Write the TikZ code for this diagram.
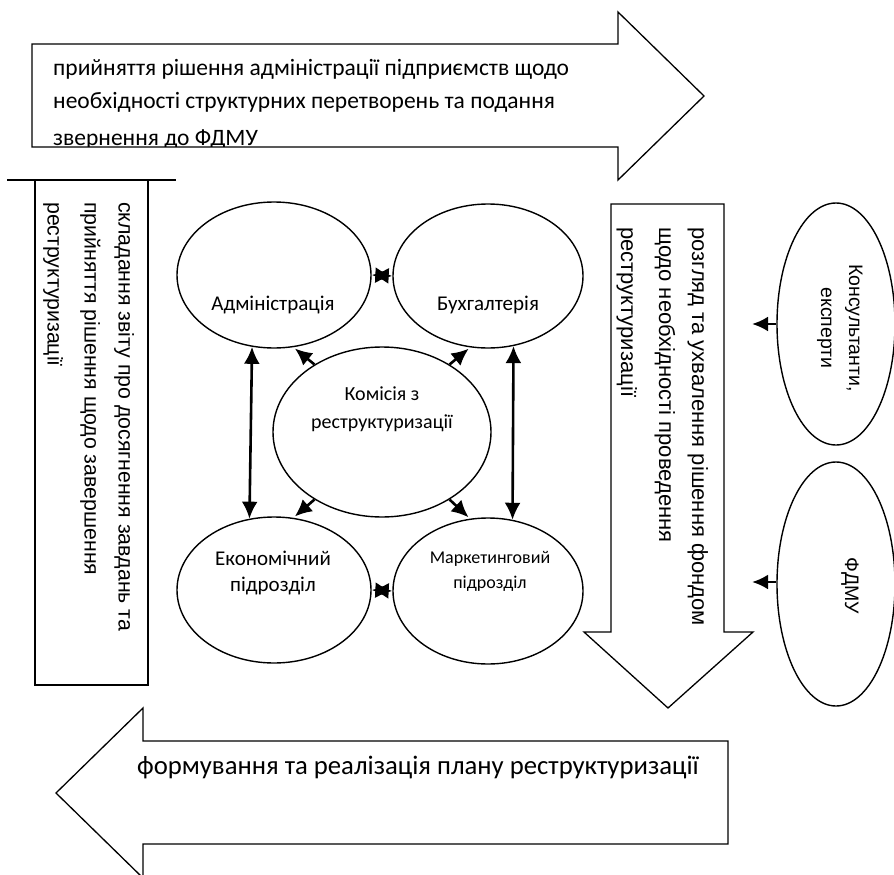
\documentclass[tikz,border=0pt]{standalone}
\usepackage{fontspec}
\setmainfont{Carlito}
\newfontfamily\arialf{Liberation Sans}
\usetikzlibrary{shapes.geometric,arrows.meta}
\begin{document}
\begin{tikzpicture}[x=1pt,y=-1pt,
  shp/.style={draw=black,line width=1.3pt,fill=white},
  oval/.style={draw,ellipse,line width=1.4pt,inner sep=0pt,fill=white},
  dbl/.style={draw,line width=2.6pt,arrows={Latex[length=17pt,width=16pt]-Latex[length=17pt,width=16pt]}},
  outarr/.style={draw,line width=2.6pt,arrows={-Latex[length=17pt,width=16pt]},shorten >=2pt},
  sidearr/.style={draw,line width=2.8pt,arrows={-Latex[length=16pt,width=15pt]}},
  txt/.style={inner sep=0pt,anchor=base west},
  ctxt/.style={inner sep=0pt,anchor=base}
]
\useasboundingbox (0,0) rectangle (894,875);
\fill[white] (0,0) rectangle (894,875);

% top arrow
\draw[shp] (32,44) -- (618,44) -- (618,12) -- (704,96) -- (618,180) -- (618,147) -- (32,147) -- cycle;
\begin{scope}
\clip (33,45) rectangle (617,146.3);
\node[txt,font=\fontsize{23.5}{28}\selectfont] (top1) at (53,75) {прийняття рішення адміністрації підприємств щодо};
\node[txt,font=\fontsize{23.5}{28}\selectfont] (top2) at (53,108.5) {необхідності структурних перетворень та подання};
\node[txt,font=\fontsize{23.5}{28}\selectfont] (top3) at (53,145) {звернення до ФДМУ};
\end{scope}

% left box
\draw[line width=2pt] (7,180) -- (176,180);
\draw[shp] (35,180) rectangle (148,685);
\node[txt,rotate=-90,font=\arialf\fontsize{21.3}{25}\selectfont] (l1) at (118.5,202) {складання звіту про досягнення завдань та};
\node[txt,rotate=-90,font=\arialf\fontsize{21.3}{25}\selectfont] (l2) at (84.5,202) {прийняття рішення щодо завершення};
\node[txt,rotate=-90,font=\arialf\fontsize{21.3}{25}\selectfont] (l3) at (47.5,202) {реструктуризації};

% right down arrow
\draw[shp] (611,204) -- (724,204) -- (724,632) -- (753,632) -- (668,708) -- (584,632) -- (611,632) -- cycle;
\node[txt,rotate=-90,font=\arialf\fontsize{22}{26}\selectfont] (r1) at (692,227) {розгляд та ухвалення рішення фондом};
\node[txt,rotate=-90,font=\arialf\fontsize{22}{26}\selectfont] (r2) at (659,227) {щодо необхідності проведення};
\node[txt,rotate=-90,font=\arialf\fontsize{22}{26}\selectfont] (r3) at (621,227) {реструктуризації};

% bottom arrow
\draw[shp] (728,741) -- (143,741) -- (143,708) -- (56,793) -- (143,878) -- (143,844) -- (728,844) -- cycle;
\node[txt,font=\fontsize{26.7}{30}\selectfont] (bot) at (137,774) {формування та реалізація плану реструктуризації};

% right ellipses
\node[oval,minimum width=118pt,minimum height=242pt] (kons) at (836,324) {};
\node[ctxt,rotate=-90,font=\arialf\fontsize{19.5}{22}\selectfont] (kons1) at (849,328) {Консультанти,};
\node[ctxt,rotate=-90,font=\arialf\fontsize{19.5}{22}\selectfont] (kons2) at (821,328) {експерти};
\node[oval,minimum width=118pt,minimum height=244pt] (fdmu) at (836,584) {};
\node[ctxt,rotate=-90,font=\arialf\fontsize{19.5}{22}\selectfont] (fdmut) at (845,586) {ФДМУ};
\coordinate (kt) at (752,324);
\coordinate (ft) at (752,582);
\path[sidearr] (kons.west) -- (kt);
\path[sidearr] (fdmu.west |- ft) -- (ft);

% centre ellipses
\node[oval,minimum width=194pt,minimum height=146pt] (adm) at (274,275) {};
\node[oval,minimum width=190pt,minimum height=144pt] (buh) at (488,276) {};
\node[oval,minimum width=218pt,minimum height=170pt] (kom) at (382,432) {};
\node[oval,minimum width=194pt,minimum height=146pt] (ek) at (274,590) {};
\node[oval,minimum width=190pt,minimum height=146pt] (mark) at (488,591) {};

\node[ctxt,font=\fontsize{21}{25}\selectfont] (admt) at (273,310) {Адміністрація};
\node[ctxt,font=\fontsize{21}{25}\selectfont] (buht) at (488,310) {Бухгалтерія};
\node[ctxt,font=\fontsize{20}{24}\selectfont] (komt1) at (382,400) {Комісія з};
\node[ctxt,font=\fontsize{20}{24}\selectfont] (komt2) at (382,428) {реструктуризації};
\node[ctxt,font=\fontsize{21}{25}\selectfont] (ekt1) at (273,565) {Економічний};
\node[ctxt,font=\fontsize{21}{25}\selectfont] (ekt2) at (273,591) {підрозділ};
\node[ctxt,font=\fontsize{18}{22}\selectfont] (markt1) at (490,563) {Маркетинговий};
\node[ctxt,font=\fontsize{18}{22}\selectfont] (markt2) at (490,588) {підрозділ};

% connectors
\path[dbl] (adm.east) -- (buh.west);
\path[dbl] (ek.east) -- (mark.west);
\path[dbl] (adm.-107) -- (ek.109);
\path[dbl] (buh.-70) -- (mark.71);
\path[outarr] (kom.135) -- (adm.-75);
\path[outarr] (kom.45) -- (buh.-104);
\path[outarr] (kom.225) -- (ek.75);
\path[outarr] (kom.-45) -- (mark.104);
\end{tikzpicture}
\end{document}
